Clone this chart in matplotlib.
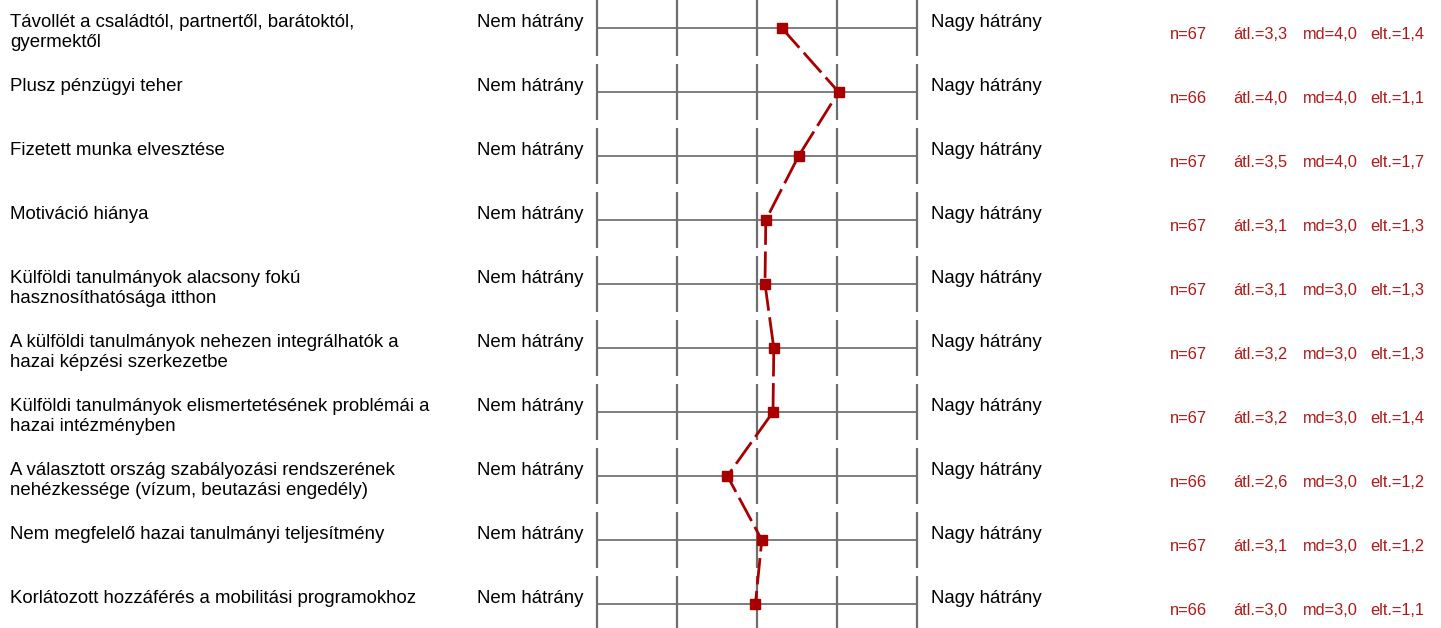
import matplotlib.pyplot as plt
from matplotlib.transforms import blended_transform_factory

plt.rcParams['font.family'] = ['Liberation Sans', 'DejaVu Sans']

# Tételek, átlagok és leíró statisztikák
items = [
    'Távollét a családtól, partnertől, barátoktól,\ngyermektől',
    'Plusz pénzügyi teher',
    'Fizetett munka elvesztése',
    'Motiváció hiánya',
    'Külföldi tanulmányok alacsony fokú\nhasznosíthatósága itthon',
    'A külföldi tanulmányok nehezen integrálhatók a\nhazai képzési szerkezetbe',
    'Külföldi tanulmányok elismertetésének problémái a\nhazai intézményben',
    'A választott ország szabályozási rendszerének\nnehézkessége (vízum, beutazási engedély)',
    'Nem megfelelő hazai tanulmányi teljesítmény',
    'Korlátozott hozzáférés a mobilitási programokhoz',
]
n_values = [67, 66, 67, 67, 67, 67, 67, 66, 67, 66]
means = [3.31, 4.02, 3.52, 3.11, 3.10, 3.21, 3.20, 2.63, 3.06, 2.98]
medians = [4.0, 4.0, 4.0, 3.0, 3.0, 3.0, 3.0, 3.0, 3.0, 3.0]
stdevs = [1.4, 1.1, 1.7, 1.3, 1.3, 1.3, 1.4, 1.2, 1.2, 1.1]
left_pole = 'Nem hátrány'
right_pole = 'Nagy hátrány'
scale = [1, 2, 3, 4, 5]

W, H = 1441, 628
RED = '#a80000'
GRID = '#5a5a5a'
TICK = '#6e6e6e'
STAT = '#b01818'
LABEL_FS = 13.4
STAT_FS = 11.8


def fx(px):
    return px / W


def fmt(v):
    return f'{v:.1f}'.replace('.', ',')


fig = plt.figure(figsize=(W / 100, H / 100), dpi=100)
ax = fig.add_axes([fx(597), 0, fx(917 - 597), 1])
ax.set_xlim(scale[0], scale[-1])
row_px = 64
ax.set_ylim((H - 28) / row_px, -28 / row_px)
ax.axis('off')

rows = list(range(len(items)))
tr = blended_transform_factory(fig.transFigure, ax.transData)

for i in rows:
    ax.hlines(i, scale[0], scale[-1], color=GRID, lw=1.1, clip_on=False)
    ax.vlines(scale, i - 0.445, i + 0.445, color=TICK, lw=1.6, clip_on=False)

    # címke sorai egyenként, 20 px sortávolsággal
    base = i - 1 / row_px
    for k, line in enumerate(items[i].split('\n')):
        ax.text(fx(10), base + k * 20 / row_px, line, transform=tr,
                ha='left', va='baseline', fontsize=LABEL_FS)
    ax.text(fx(477), base, left_pole, transform=tr, ha='left', va='baseline',
            fontsize=LABEL_FS)
    ax.text(fx(931), base, right_pole, transform=tr, ha='left', va='baseline',
            fontsize=LABEL_FS)

    y_stat = i + 11 / row_px
    ax.text(fx(1170), y_stat, f'n={n_values[i]}', transform=tr, ha='left',
            va='baseline', fontsize=STAT_FS, color=STAT)
    ax.text(fx(1233), y_stat, f'átl.={fmt(means[i])}', transform=tr, ha='left',
            va='baseline', fontsize=STAT_FS, color=STAT)
    ax.text(fx(1303), y_stat, f'md={fmt(medians[i])}', transform=tr, ha='left',
            va='baseline', fontsize=STAT_FS, color=STAT)
    ax.text(fx(1370), y_stat, f'elt.={fmt(stdevs[i])}', transform=tr, ha='left',
            va='baseline', fontsize=STAT_FS, color=STAT)

# Átlagprofil szaggatott vonallal
ax.plot(means, rows, color=RED, lw=2.0, linestyle=(0, (9.5, 2.4)),
        marker='s', markersize=6.5, markerfacecolor=RED, markeredgecolor=RED,
        clip_on=False, zorder=5)

fig.savefig('out.png', dpi=100, facecolor='white')
